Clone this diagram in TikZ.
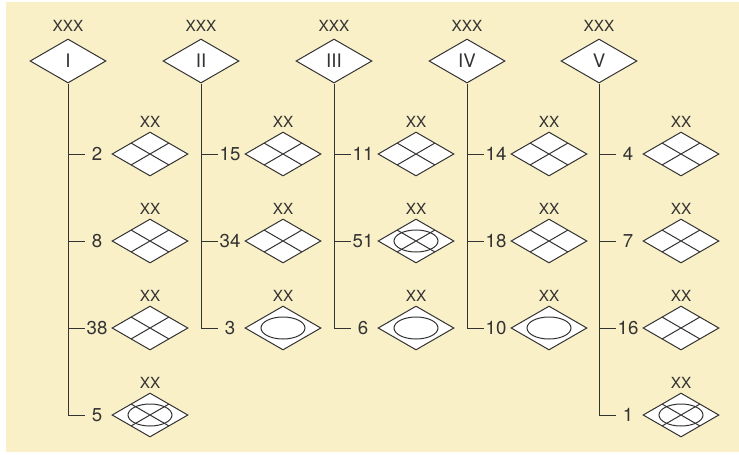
\documentclass[tikz,border=0pt]{standalone}
\usepackage{fontspec}
\setmainfont{TeX Gyre Heros}
\usetikzlibrary{shapes.geometric, positioning, calc}
\definecolor{paper}{HTML}{FAF0C8}
\definecolor{ink}{HTML}{333333}

\begin{document}
\begin{tikzpicture}[x=0.75pt, y=-0.75pt, line width=0.75pt, color=ink,
  unit/.style={diamond, draw=ink, fill=white, minimum width=57pt, minimum height=33pt, inner sep=0pt},
  topbox/.style={unit, font=\fontsize{14}{14}\selectfont},
  quadbox/.style={unit, path picture={\draw[shift={(path picture bounding box.center)}]
      (-14.25pt,8.25pt) -- (14.25pt,-8.25pt) (14.25pt,8.25pt) -- (-14.25pt,-8.25pt);}},
  ovalbox/.style={unit, path picture={\draw (path picture bounding box.center)
      ellipse [x radius=16.5pt, y radius=8.25pt];}},
  ovalquadbox/.style={unit, path picture={\draw (path picture bounding box.center)
      ellipse [x radius=16.5pt, y radius=8.25pt];
    \draw[shift={(path picture bounding box.center)}]
      (-14.25pt,8.25pt) -- (14.25pt,-8.25pt) (14.25pt,8.25pt) -- (-14.25pt,-8.25pt);}},
  tag/.style={font=\fontsize{11.5}{11.5}\selectfont, inner sep=0pt},
  num/.style={font=\fontsize{14}{14}\selectfont, inner sep=0pt}]
  \useasboundingbox (0,0) rectangle (739,454);
  \fill[paper] (6,2) rectangle (739,452);
  % one column per group: trunk, ticks, numbers, boxes
  \foreach \c/\x/\lab/\last/\items in {
      1/68/I/4/{2/quadbox,8/quadbox,38/quadbox,5/ovalquadbox},
      2/201/II/3/{15/quadbox,34/quadbox,3/ovalbox},
      3/334/III/3/{11/quadbox,51/ovalquadbox,6/ovalbox},
      4/467/IV/3/{14/quadbox,18/quadbox,10/ovalbox},
      5/599/V/4/{4/quadbox,7/quadbox,16/quadbox,1/ovalquadbox}} {
    \node[topbox] (t\c) at (\x,61) {\lab};
    \node[tag, above=5pt of t\c] (h\c) {XXX};
    \foreach \n/\kind [count=\r] in \items {
      \coordinate (j\c-\r) at (\x,{154+87*(\r-1)});
      \coordinate (k\c-\r) at ($(j\c-\r)+(17,0)$);
      \node[\kind] (b\c-\r) at ($(j\c-\r)+(82,0)$) {};
      \node[tag, above=3pt of b\c-\r] (x\c-\r) {XX};
      \node[num] (n\c-\r) at ($(j\c-\r)+(29,0)$) {\n};
      \draw (j\c-\r) -- (k\c-\r);
    }
    \draw (t\c.south) |- (k\c-\last);
  }
\end{tikzpicture}
\end{document}
